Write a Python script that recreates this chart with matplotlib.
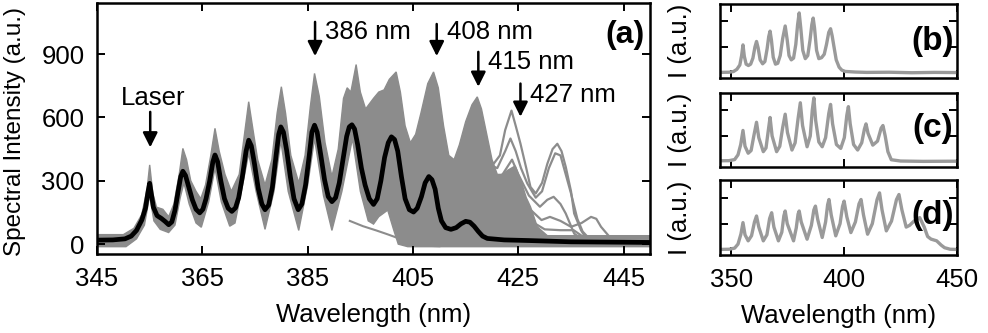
import numpy as np
import matplotlib
matplotlib.use('Agg')
from matplotlib import pyplot as plt

plt.rcParams['font.family'] = ['Liberation Sans', 'DejaVu Sans']

# (a) mean spectrum, black
mean_nm = [345, 348, 350.3, 351.5, 352.5, 353.5, 354.2, 354.7, 355.0, 355.3, 355.7, 356.4, 357.2,
           357.9, 358.6, 359.2, 359.8, 360.4, 360.9, 361.3, 361.8, 362.4, 363.1, 363.8, 364.5,
           365.1, 365.7, 366.4, 367.0, 367.4, 367.9, 368.5, 369.2, 369.9, 370.6, 371.3, 371.9,
           372.6, 373.3, 373.8, 374.3, 374.9, 375.6, 376.3, 376.9, 377.6, 378.3, 379.0, 379.5,
           379.9, 380.4, 381.0, 381.7, 382.4, 383.2, 383.9, 384.6, 385.3, 385.8, 386.3, 386.8,
           387.5, 388.2, 388.9, 389.6, 390.3, 391.0, 391.7, 392.4, 392.9, 393.4, 393.9, 394.5,
           395.2, 395.9, 396.7, 397.5, 398.2, 398.9, 399.6, 400.3, 400.9, 401.5, 402.1, 402.8,
           403.5, 404.3, 405.1, 405.8, 406.6, 407.3, 408.0, 408.6, 409.2, 409.8, 410.4, 411.2,
           412.2, 413.2, 414.1, 415.0, 415.8, 416.6, 417.4, 418.2, 419.1, 422.3, 427, 435, 450]
mean_int = [19, 20, 25, 38, 65, 114, 170, 250, 288, 240, 175, 135, 122,
            108, 92, 105, 160, 250, 320, 345, 325, 272, 210, 165, 148,
            165, 215, 300, 390, 422, 390, 300, 215, 170, 155, 172, 220,
            320, 440, 492, 465, 380, 265, 190, 163, 185, 270, 420, 520,
            555, 530, 445, 320, 215, 163, 190, 280, 420, 530, 563, 530,
            420, 305, 225, 201, 220, 290, 400, 510, 555, 565, 545, 470,
            360, 280, 215, 188, 215, 300, 410, 480, 508, 495, 440, 320,
            215, 163, 152, 170, 225, 290, 320, 305, 260, 170, 110, 78,
            70, 78, 96, 108, 104, 85, 60, 38, 27, 20, 17, 11, 8]

# (a) envelope of all individual spectra, gray
upper_nm = [345, 350, 352, 353.5, 354.5, 355.0, 355.6, 356.3, 357.5, 358.6, 359.6, 360.6, 361.3,
            362.0, 362.8, 363.8, 364.7, 365.6, 366.6, 367.4, 368.2, 369.3, 370.5, 372.0, 373.0,
            373.8, 374.5, 375.5, 376.9, 378.2, 379.2, 380.0, 380.8, 381.8, 383.3, 384.5, 385.5,
            386.3, 387.2, 388.3, 389.6, 390.8, 391.8, 392.5, 393.2, 394.2, 395.0, 396.0, 397.5,
            398.5, 399.5, 400.5, 401.8, 402.6, 403.5, 404.5, 405.5, 406.5, 407.8, 408.9, 409.8,
            410.8, 411.8, 412.8, 413.8, 415.0, 416.2, 417.2, 418.0, 419.0, 420.0, 421.0, 422.0,
            423.0, 424.4, 425.5, 426.5, 427.3, 428.6, 430.5, 450]
upper_int = [45, 45, 75, 140, 260, 375, 240, 175, 165, 130, 190, 330, 453,
             400, 300, 250, 215, 280, 420, 548, 440, 330, 250, 330, 520,
             674, 560, 400, 280, 400, 620, 745, 620, 420, 290, 420, 650,
             808, 700, 480, 320, 450, 690, 740, 720, 850, 720, 640, 690,
             720, 730, 780, 815, 720, 560, 480, 520, 620, 760, 815, 740,
             560, 420, 400, 470, 580, 660, 697, 640, 520, 400, 330, 330,
             350, 370, 300, 220, 177, 82, 40, 40]
lower_nm = [345, 350.5, 352.5, 354.0, 355.0, 355.8, 357.0, 358.6, 359.8, 360.8, 361.5, 362.5,
            363.8, 364.8, 366.2, 367.4, 368.6, 370.2, 371.2, 372.8, 373.8, 375.2, 376.9, 378.6,
            379.9, 381.3, 383.3, 385.0, 386.3, 388.0, 389.6, 391.5, 393.5, 395.0, 396.5, 397.5,
            398.5, 400.2, 401.3, 402.2, 404, 450]
lower_int = [-12, -12, 25, 90, 230, 110, 70, 55, 90, 220, 290, 190,
             100, 80, 200, 360, 200, 85, 100, 300, 430, 250, 70, 250,
             490, 250, 65, 280, 500, 230, 65, 250, 500, 250, 110, 95,
             130, 161, 70, 0, -12, -12]

# (a) single spectra that stand out
tail_nm = [393, 395.5, 398, 400, 402, 404, 406, 408, 410]
tail_int = [110, 85, 65, 48, 30, 15, 3, -8, -10]
trace_a_nm = [418, 420.3, 421.5, 422.5, 423.7, 424.5, 425.4, 426.5, 427.3, 428.3, 429.5, 430.5,
              431.5, 432.4, 433.2, 434, 435, 435.6, 436.9, 437.8, 439]
trace_a_int = [450, 380, 420, 540, 632, 560, 476, 360, 271, 240, 290, 380,
               450, 475, 440, 366, 250, 145, 66, 30, 20]
trace_b_nm = [419, 421, 422.5, 423.5, 424.5, 425.5, 426.7, 428.3, 429.5, 430.8, 432, 433,
              434, 435, 436.2, 437.2, 438.5]
trace_b_int = [380, 360, 440, 500, 440, 360, 287, 220, 250, 360, 430, 420,
               330, 240, 120, 60, 25]
trace_c_nm = [419, 422, 423.8, 425, 427, 429.1, 430.5, 431.7, 433, 434, 435.6, 437]
trace_c_int = [300, 330, 400, 330, 230, 177, 210, 224, 190, 145, 50, 25]
trace_d_nm = [425, 427, 429.4, 431, 433, 435, 437, 438.8, 439.8, 440.7, 442.3, 443.5]
trace_d_int = [250, 170, 114, 129, 110, 82, 100, 129, 120, 82, 35, 20]
trace_e_nm = [426, 428, 430, 433, 435.5, 437, 438]
trace_e_int = [150, 100, 70, 66, 66, 40, 20]

# (b), (c), (d) single spectra
b_nm = [345, 349, 351, 352.5, 353.8, 354.6, 355.2, 355.8, 356.6, 357.6, 358.6, 359.6, 360.5,
        361.2, 361.9, 362.8, 363.9, 364.9, 365.9, 366.6, 367.2, 367.8, 368.6, 369.6, 370.6,
        371.7, 372.8, 373.9, 374.8, 375.6, 376.6, 377.6, 378.6, 379.4, 380.1, 380.8, 381.7,
        382.8, 383.9, 384.9, 385.7, 386.3, 386.9, 387.8, 388.8, 390, 391.2, 392.2, 393.2,
        394.0, 394.7, 395.5, 396.5, 397.8, 399, 400.5, 405, 410, 420, 430, 440, 450]
b_int = [4, 6, 14, 40, 90, 200, 324, 190, 100, 84, 100, 170, 300,
         364, 290, 150, 104, 130, 280, 420, 484, 380, 180, 100, 110,
         200, 400, 544, 380, 200, 150, 170, 330, 560, 696, 520, 260,
         164, 200, 380, 560, 636, 520, 260, 164, 175, 215, 330, 470,
         512, 430, 304, 150, 64, 30, 15, 8, 4, 6, 0, 4, 2]
c_nm = [345, 349, 351.5, 353, 354.2, 355.2, 356.1, 357.5, 358.8, 360, 361.2, 362.2, 364.2,
        365.4, 366.4, 367.2, 368.1, 370.1, 371.5, 372.8, 373.9, 374.9, 376.9, 378.3, 379.6,
        380.6, 381.6, 383.6, 385.0, 385.9, 386.6, 387.4, 388.8, 390.3, 391.8, 393.2, 394.0,
        394.9, 396.6, 398.5, 400.1, 401.2, 401.9, 402.7, 404.2, 406, 407.8, 409.0, 409.7,
        410.6, 412.7, 414.8, 416.4, 417.2, 418.2, 419.4, 420.9, 425, 435, 450]
c_int = [11, 12, 25, 80, 200, 364, 180, 99, 130, 300, 459, 280, 117,
         160, 360, 515, 300, 117, 180, 400, 553, 340, 136, 220, 500,
         686, 420, 174, 300, 600, 743, 480, 230, 174, 280, 560, 667,
         440, 200, 155, 280, 540, 641, 440, 200, 136, 220, 380, 440,
         330, 193, 240, 390, 421, 300, 117, 23, 8, 4, 6]
d_nm = [345, 349, 351.5, 353, 354.3, 355.2, 356.1, 357.5, 359.0, 360.3, 361.2, 362.2, 364.2,
        365.8, 367.0, 367.9, 368.9, 370.9, 372.4, 373.3, 373.9, 374.8, 377.6, 378.8, 379.6,
        380.1, 381.0, 383.6, 385.5, 386.6, 387.3, 388.3, 390.3, 391.8, 392.7, 393.3, 394.3,
        396.3, 398.2, 399.3, 400, 401.2, 403, 405.0, 406.6, 407.5, 408.6, 410.4, 412.5,
        414.6, 415.7, 416.8, 418.7, 421, 423.2, 424.3, 425.6, 427.5, 429, 431, 433.5, 435.5,
        437, 438.5, 441, 443, 444.5, 447, 450]
d_int = [0, 2, 15, 62, 180, 312, 170, 100, 160, 320, 389, 260, 100,
         170, 360, 427, 260, 100, 200, 390, 447, 300, 100, 250, 410,
         447, 320, 119, 280, 460, 504, 350, 139, 320, 520, 581, 400,
         158, 300, 500, 562, 380, 196, 320, 530, 581, 400, 177, 300,
         580, 658, 460, 216, 330, 580, 639, 460, 260, 280, 330, 370, 260,
         150, 120, 100, 50, 20, 2, 0]

main_xticks = [345, 365, 385, 405, 425, 445]
main_yticks = [0, 300, 600, 900]
side_xticks = [350, 400, 450]
side_yticks = [300, 600]

gray = '#8c8c8c'
light = '#9a9a9a'
fs = 18.5

fig = plt.figure(figsize=(9.88, 3.33), dpi=100)

ax = fig.add_axes([0.0982, 0.2364, 0.5597, 0.7537])
ax.fill(np.concatenate([upper_nm, lower_nm[::-1]]), np.concatenate([upper_int, lower_int[::-1]]),
        color=gray, lw=1, ec=gray, zorder=1)
ax.plot(tail_nm, tail_int, color=gray, lw=1.5, zorder=1)
for tx, ty in [(trace_a_nm, trace_a_int), (trace_b_nm, trace_b_int), (trace_c_nm, trace_c_int),
               (trace_d_nm, trace_d_int), (trace_e_nm, trace_e_int)]:
    ax.plot(tx, ty, color=gray, lw=1.6, zorder=1)
ax.plot(mean_nm, mean_int, color='k', lw=3.4, solid_joinstyle='round', zorder=3)

ax.set_xlim(345, 450)
ax.set_ylim(-48, 1140)
ax.set_xticks(main_xticks)
ax.set_yticks(main_yticks)
ax.set_xlabel('Wavelength (nm)', fontsize=fs, labelpad=9)
ax.set_ylabel('Spectral Intensity (a.u.)', fontsize=17.5)
ax.yaxis.set_label_coords(-0.128, 0.49)

arrow = dict(arrowstyle='-|>', color='k', lw=1.8, mutation_scale=22, shrinkA=0, shrinkB=0)
ax.annotate('', xy=(355.1, 458), xytext=(355.1, 626), arrowprops=arrow)
ax.text(355.6, 691, 'Laser', ha='center', va='center', fontsize=fs)
for x0, ytop, ytip, label, ytxt in [(386.4, 1052, 890, '386 nm', 1005),
                                      (409.5, 1042, 890, '408 nm', 1005),
                                      (417.4, 910, 745, '415 nm', 863),
                                      (425.4, 760, 603, '427 nm', 705)]:
    ax.annotate('', xy=(x0, ytip), xytext=(x0, ytop), arrowprops=arrow)
    ax.text(x0 + 1.9, ytxt, label, ha='left', va='center', fontsize=fs)
ax.text(0.99, 0.875, '(a)', transform=ax.transAxes, ha='right', va='center',
        fontsize=23, fontweight='bold')

side_boxes = [0.7648, 0.4976, 0.2342]
side_data = [(b_nm, b_int, '(b)', 0.49), (c_nm, c_int, '(c)', 0.516), (d_nm, d_int, '(d)', 0.53)]
side_axes = []
for bottom, (sx, sy, tag, ty) in zip(side_boxes, side_data):
    sa = fig.add_axes([0.7287, bottom, 0.2399, 0.2245])
    sa.plot(sx, sy, color=light, lw=2.4, solid_joinstyle='round')
    sa.set_xlim(345, 450)
    sa.set_ylim(-65, 805)
    sa.set_xticks(side_xticks)
    sa.set_yticks(side_yticks)
    sa.set_yticklabels([])
    sa.set_ylabel('I (a.u.)', fontsize=fs)
    sa.yaxis.set_label_coords(-0.12, 0.5)
    sa.text(0.985, ty, tag, transform=sa.transAxes, ha='right', va='center',
            fontsize=24, fontweight='bold')
    side_axes.append(sa)
for sa in side_axes[:-1]:
    sa.set_xticklabels([])
side_axes[-1].set_xlabel('Wavelength (nm)', fontsize=fs, labelpad=9)

for a in [ax] + side_axes:
    a.tick_params(direction='in', top=True, right=True, length=6, width=1.4,
                  labelsize=fs, pad=9)
    for sp in a.spines.values():
        sp.set_linewidth(1.8)

fig.savefig('out.png', dpi=100)
